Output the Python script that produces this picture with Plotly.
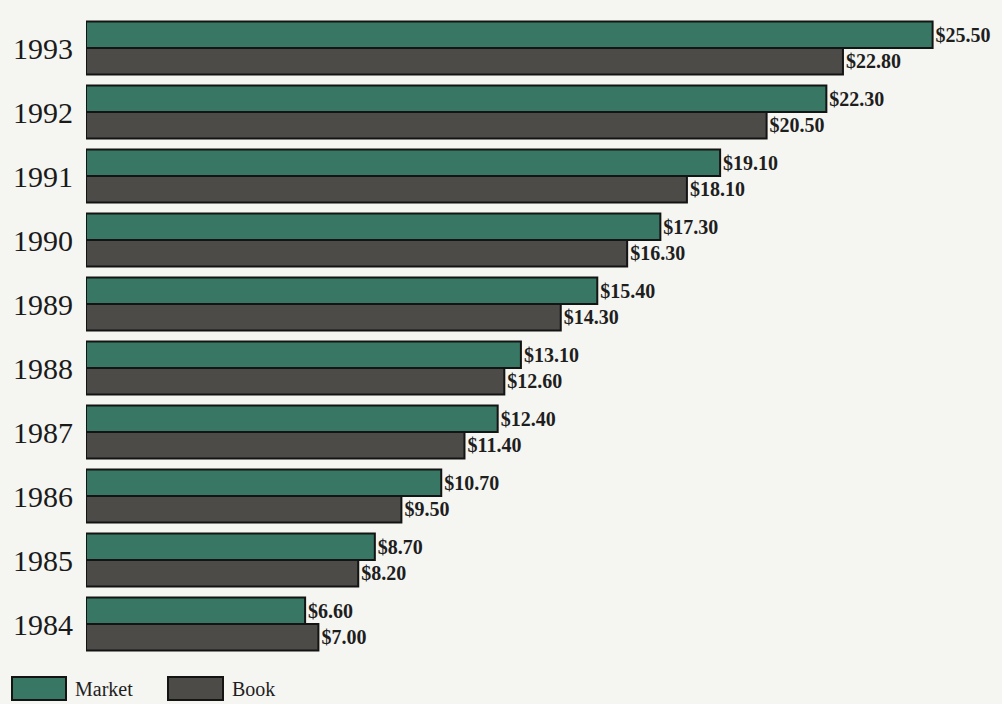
import plotly.graph_objects as go

years = ["1984", "1985", "1986", "1987", "1988", "1989", "1990", "1991", "1992", "1993"]
market = [6.60, 8.70, 10.70, 12.40, 13.10, 15.40, 17.30, 19.10, 22.30, 25.50]
book = [7.00, 8.20, 9.50, 11.40, 12.60, 14.30, 16.30, 18.10, 20.50, 22.80]

GREEN = "#377763"
GREY = "#4c4b48"
EDGE = "#141414"
BG = "#f5f5f1"
SERIF = "Liberation Serif, Times New Roman, serif"
LABEL_FONT = dict(family=SERIF, size=20, color="#1e1e1e", weight="bold")

fig = go.Figure()

# Book first so it sits in the lower half of each year's pair
fig.add_trace(go.Bar(
    y=years, x=book, orientation="h", name="Book",
    marker=dict(color=GREY, line=dict(color=EDGE, width=2)),
    texttemplate="$%{x:.2f}", textposition="outside",
    textfont=LABEL_FONT, cliponaxis=False,
))
fig.add_trace(go.Bar(
    y=years, x=market, orientation="h", name="Market",
    marker=dict(color=GREEN, line=dict(color=EDGE, width=2)),
    texttemplate="$%{x:.2f}", textposition="outside",
    textfont=LABEL_FONT, cliponaxis=False,
))

# Legend drawn as swatches with labels below the plot
legend_items = [("Market", GREEN, 12, 66), ("Book", GREY, 168, 223)]
for label, color, x0, x1 in legend_items:
    fig.add_shape(type="rect", xref="paper", yref="paper",
                  x0=(x0 - 86) / 916, x1=(x1 - 86) / 916,
                  y0=-(677 - 656) / 640, y1=-(700 - 656) / 640,
                  fillcolor=color, line=dict(color=EDGE, width=2))
    fig.add_annotation(xref="paper", yref="paper",
                       x=(x1 + 7 - 86) / 916, y=-(689 - 656) / 640,
                       text=label, showarrow=False, xanchor="left", yanchor="middle",
                       font=dict(family=SERIF, size=20, color="#1e1e1e"))

fig.update_layout(
    width=1002, height=704,
    margin=dict(l=86, r=0, t=16, b=48),
    paper_bgcolor=BG, plot_bgcolor=BG,
    barmode="group", bargap=0.17, bargroupgap=0,
    showlegend=False,
    xaxis=dict(range=[0, 916 / 33.2], visible=False, fixedrange=True),
    yaxis=dict(
        type="category", categoryorder="array", categoryarray=years,
        showgrid=False, zeroline=False, showline=False,
        ticks="", ticklabelstandoff=12,
        tickfont=dict(family=SERIF, size=30, color="#1a1a1a"),
    ),
)

fig.write_html("out.html")
